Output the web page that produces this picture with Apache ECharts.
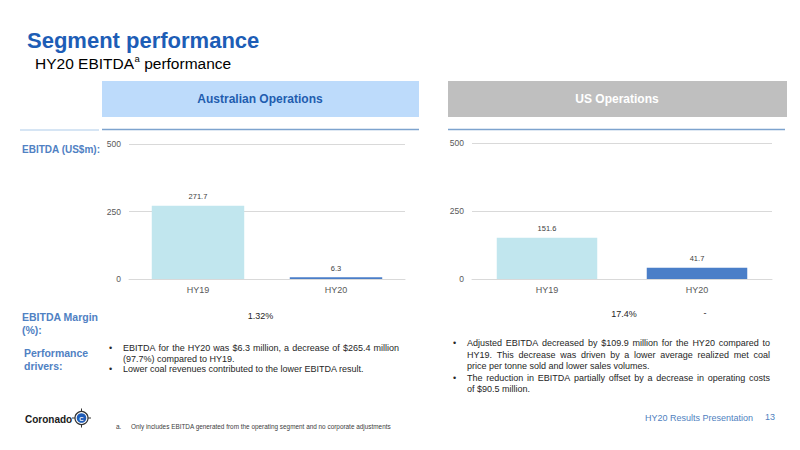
<!DOCTYPE html>
<html>
<head>
<meta charset="utf-8">
<script src="https://cdn.jsdelivr.net/npm/echarts@6/dist/echarts.min.js"></script>
<style>
html,body{margin:0;padding:0;background:#fff;}
#c{width:800px;height:450px;}
</style>
</head>
<body>
<div id="c"></div>
<script>
// ---- data ----
const categories = ['HY19', 'HY20'];
const ausEbitda = [271.7, 6.3];
const usEbitda = [151.6, 41.7];
const yTickMax = 500;
const yTickInterval = 250;
const ausMargin = ['1.32%'];
const usMargin = ['17.4%', '-'];
const ausDrivers = [
  ['EBITDA for the HY20 was $6.3 million, a decrease of $265.4 million', '(97.7%) compared to HY19.'],
  ['Lower coal revenues contributed to the lower EBITDA result.']
];
const usDrivers = [
  ['Adjusted EBITDA decreased by $109.9 million for the HY20 compared to',
   'HY19. This decrease was driven by a lower average realized met coal',
   'price per tonne sold and lower sales volumes.'],
  ['The reduction in EBITDA partially offset by a decrease in operating costs',
   'of $90.5 million.']
];

// ---- helpers ----
const FF = '"Liberation Sans", Arial, sans-serif';
const mctx = document.createElement('canvas').getContext('2d');
function measure(t, size, weight) {
  mctx.font = (weight || 'normal') + ' ' + size + 'px ' + FF;
  return mctx.measureText(t).width;
}
function txt(t, x, y, o) {
  o = o || {};
  return {
    type: 'text', silent: true,
    style: {
      text: t, x: x, y: y,
      fill: o.fill || '#262626',
      fontSize: o.size || 9,
      fontWeight: o.weight || 'normal',
      fontFamily: o.family || FF,
      align: o.align || 'left',
      verticalAlign: 'middle'
    }
  };
}
function justified(t, x, y, width, size, fill) {
  const words = t.split(' ');
  const ws = words.map(w => measure(w, size));
  const total = ws.reduce((a, b) => a + b, 0);
  const gap = (width - total) / (words.length - 1);
  const out = [];
  let cx = x;
  words.forEach((w, i) => { out.push(txt(w, cx, y, {size: size, fill: fill})); cx += ws[i] + gap; });
  return out;
}
function bullets(paras, bx, tx, y0, lh, width, size) {
  const out = [];
  let y = y0;
  paras.forEach(p => {
    out.push(txt('\u2022', bx, y, {size: size, fill: '#262626'}));
    p.forEach((line, i) => {
      if (i < p.length - 1) out.push(...justified(line, tx, y, width, size, '#262626'));
      else out.push(txt(line, tx, y, {size: size}));
      y += lh;
    });
  });
  return out;
}

const blue = '#1D5DB6';
const labelBlue = '#5081C3';
const barColors = ['#C1E6EE', '#4A7EC8'];

const graphics = [];
// titles
graphics.push(txt('Segment performance', 27, 40, {size: 22, weight: 'bold', fill: blue}));
const subA = 'HY20 EBITDA';
const subSize = 15.5;
const wA = measure(subA, subSize);
graphics.push(txt(subA, 35, 63, {size: subSize, fill: '#000'}));
graphics.push(txt('a', 35 + wA + 0.5, 58.5, {size: 9.5, fill: '#000'}));
graphics.push(txt(' performance', 35 + wA + 0.5 + measure('a', 9.5), 63, {size: subSize, fill: '#000'}));

// header boxes
graphics.push({type: 'rect', silent: true, shape: {x: 102, y: 81, width: 317, height: 36}, style: {fill: '#BDDBFB'}});
graphics.push(txt('Australian Operations', 260, 99, {size: 12, weight: 'bold', fill: '#1F5DAF', align: 'center'}));
graphics.push({type: 'rect', silent: true, shape: {x: 448, y: 81, width: 339, height: 36}, style: {fill: '#BFBFBF'}});
graphics.push(txt('US Operations', 617, 99, {size: 12, weight: 'bold', fill: '#fff', align: 'center'}));
graphics.push({type: 'line', silent: true, shape: {x1: 20, y1: 130, x2: 99, y2: 130}, style: {stroke: '#C9DCF0', lineWidth: 1.5}});
graphics.push({type: 'line', silent: true, shape: {x1: 102, y1: 129.5, x2: 419, y2: 129.5}, style: {stroke: '#7DA3CE', lineWidth: 1.5}});
graphics.push({type: 'line', silent: true, shape: {x1: 448, y1: 129.5, x2: 785, y2: 129.5}, style: {stroke: '#7DA3CE', lineWidth: 1.5}});

// left labels
graphics.push(txt('EBITDA (US$m):', 22, 149, {size: 10, weight: 'bold', fill: labelBlue}));
graphics.push(txt('EBITDA Margin', 22, 317, {size: 10.5, weight: 'bold', fill: labelBlue}));
graphics.push(txt('(%):', 22, 329.5, {size: 10.5, weight: 'bold', fill: labelBlue}));
graphics.push(txt('Performance', 24, 353, {size: 10.5, weight: 'bold', fill: labelBlue}));
graphics.push(txt('drivers:', 24, 366, {size: 10.5, weight: 'bold', fill: labelBlue}));

// margins
graphics.push(txt(ausMargin[0], 260.5, 316, {size: 9, align: 'center'}));
graphics.push(txt(usMargin[0], 624, 314, {size: 9, align: 'center'}));
graphics.push(txt(usMargin[1], 705, 313, {size: 9, align: 'center'}));

// bullets
graphics.push(...bullets(ausDrivers, 109, 123, 348, 10.5, 276, 9));
graphics.push(...bullets(usDrivers, 453, 467, 343, 11.5, 303, 9));

// footer
graphics.push(txt('Coronado', 25, 419, {size: 10, weight: 'bold', fill: '#1a1a1a'}));
const lx = 81.5, ly = 418;
graphics.push({type: 'line', silent: true, shape: {x1: lx, y1: ly - 9.5, x2: lx, y2: ly + 9.5}, style: {stroke: '#333', lineWidth: 1}});
graphics.push({type: 'line', silent: true, shape: {x1: lx - 9.5, y1: ly, x2: lx + 9.5, y2: ly}, style: {stroke: '#333', lineWidth: 1}});
graphics.push({type: 'circle', silent: true, shape: {cx: lx, cy: ly, r: 6.5}, style: {fill: '#fff', stroke: '#333', lineWidth: 1.2}});
graphics.push({type: 'circle', silent: true, shape: {cx: lx, cy: ly, r: 4.8}, style: {fill: '#1F5DB8'}});
graphics.push({type: 'text', silent: true, style: {text: 'C', x: lx, y: ly + 0.5, fill: '#fff', fontSize: 6, fontWeight: 'bold', fontFamily: FF, align: 'center', verticalAlign: 'middle'}});
graphics.push(txt('a.', 116, 426, {size: 6.5, fill: '#404040'}));
graphics.push(txt('Only includes EBITDA generated from the operating segment and no corporate adjustments', 131, 426, {size: 6.4, fill: '#404040'}));
graphics.push(txt('HY20 Results Presentation', 753, 418, {size: 9, fill: '#4F7FC0', align: 'right'}));
graphics.push(txt('13', 775, 417, {size: 9, fill: '#4F7FC0', align: 'right'}));

function mkX(gi) {
  return {
    type: 'category', gridIndex: gi, data: categories,
    axisLine: {lineStyle: {color: '#D9D9D9', width: 1}},
    axisTick: {show: false},
    axisLabel: {color: '#595959', fontSize: 9, margin: 6, fontFamily: FF}
  };
}
function mkY(gi) {
  return {
    type: 'value', gridIndex: gi, min: 0, max: yTickMax, interval: yTickInterval,
    axisLine: {show: false}, axisTick: {show: false},
    splitLine: {lineStyle: {color: '#D9D9D9', width: 1}},
    axisLabel: {color: '#595959', fontSize: 8.5, margin: 8, fontFamily: FF}
  };
}
function mkSeries(gi, vals) {
  return {
    type: 'bar', xAxisIndex: gi, yAxisIndex: gi, barWidth: '67%',
    data: vals.map((v, i) => ({value: v, itemStyle: {color: barColors[i]}})),
    label: {show: true, position: 'top', distance: 5, color: '#404040', fontSize: 7.5, fontFamily: FF,
      formatter: p => p.value.toFixed(1)},
    silent: true
  };
}

const chart = echarts.init(document.getElementById('c'), null, {renderer: 'svg'});
chart.setOption({
  animation: false,
  backgroundColor: '#fff',
  grid: [
    {left: 129, right: 395, top: 144, bottom: 171},
    {left: 472, right: 28, top: 143, bottom: 171}
  ],
  xAxis: [mkX(0), mkX(1)],
  yAxis: [mkY(0), mkY(1)],
  series: [mkSeries(0, ausEbitda), mkSeries(1, usEbitda)],
  graphic: graphics
});
</script>
</body>
</html>
